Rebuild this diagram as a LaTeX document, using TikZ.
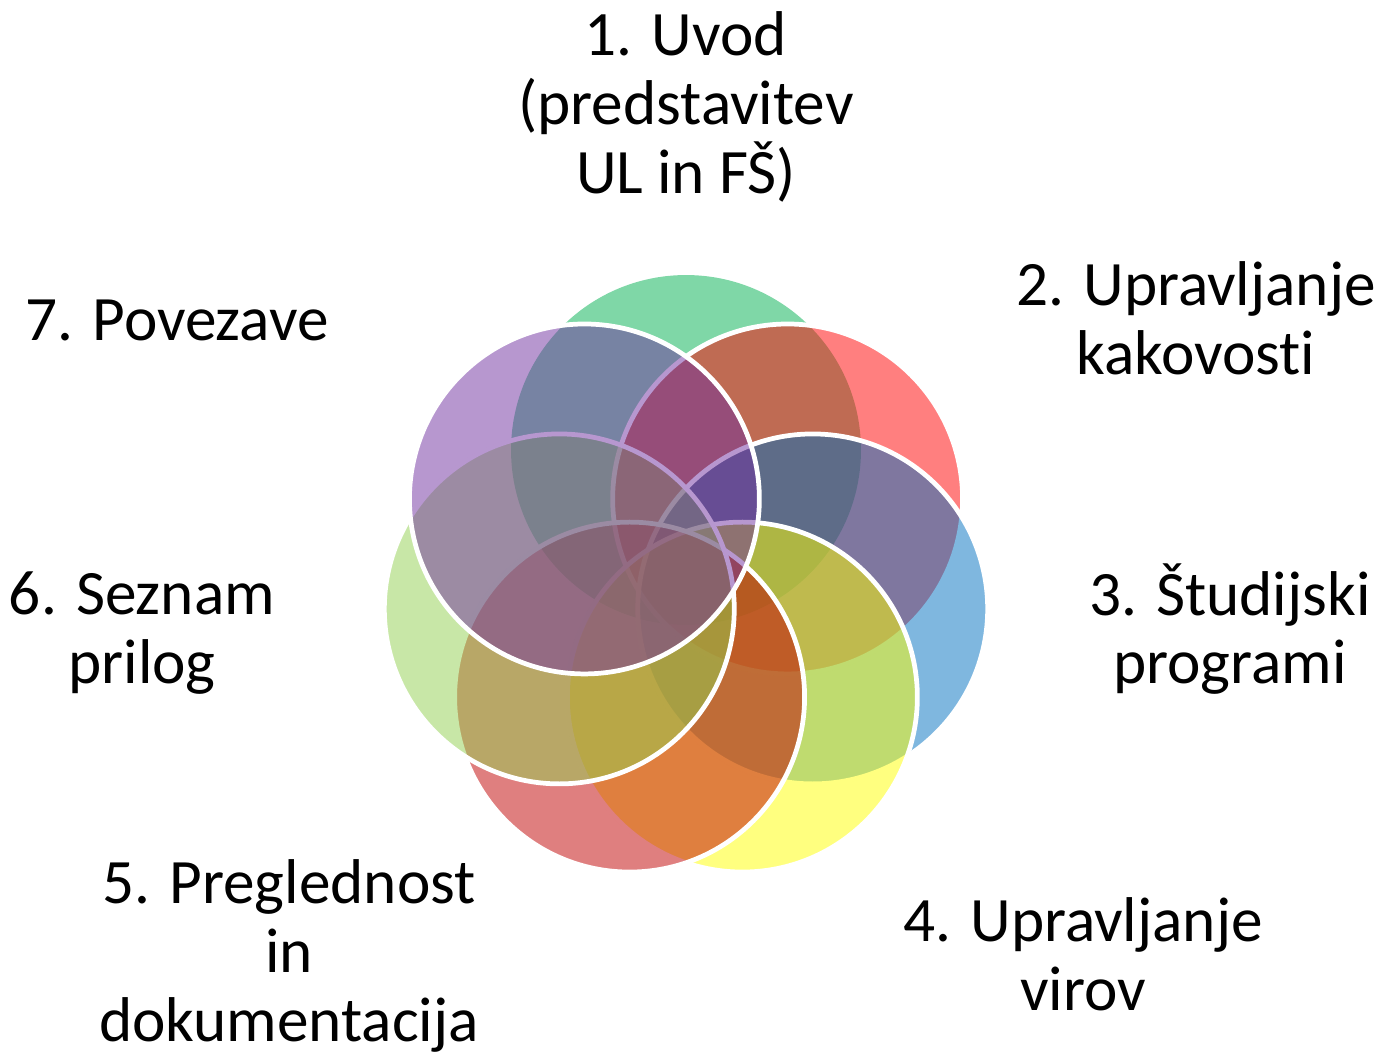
\documentclass[tikz,border=0pt]{standalone}
\usepackage{fontspec}
\setmainfont{Carlito}[Ligatures=CommonOff]
\usepackage{tikz}
\usetikzlibrary{calc}
\definecolor{krog1}{HTML}{00B050}
\definecolor{krog2}{HTML}{FF0000}
\definecolor{krog3}{HTML}{0070C0}
\definecolor{krog4}{HTML}{FFFF00}
\definecolor{krog5}{HTML}{C00000}
\definecolor{krog6}{HTML}{92D050}
\definecolor{krog7}{HTML}{7030A0}
\tikzset{
  krog/.style={circle, minimum size=7cm, inner sep=0pt, draw=white, line width=2.7pt, fill opacity=0.5},
  oznaka/.style={align=center, inner sep=0pt, font=\fontsize{36}{39.1}\selectfont}
}
\begin{document}
\begin{tikzpicture}[x=0.02cm, y=0.02cm]
	\useasboundingbox (0,0) rectangle (1381,1053);
	\coordinate (sredina) at (686,473);

	% krogi v obroc, prvi brez obrobe
	\node[krog, draw=none, fill=krog1] (k1) at ($(sredina)+(90:2.6cm)$) {};
	\foreach \i in {2,...,7} {
		\node[krog, fill=krog\i] (k\i) at ($(sredina)+({90-(\i-1)*360/7}:2.6cm)$) {};
	}

	\node[oznaka] (o1) at (686,946) {1. Uvod\\(predstavitev\\UL in FŠ)};
	\node[oznaka] (o2) at (1196,735) {2. Upravljanje\\kakovosti};
	\node[oznaka] (o3) at (1230,424) {3. Študijski\\programi};
	\node[oznaka] (o4) at (1083,99) {4. Upravljanje\\virov};
	\node[oznaka] (o5) at (289,97) {5. Preglednost\\in\\dokumentacija};
	\node[oznaka] (o6) at (142,420) {6. Seznam\\prilog};
	\node[oznaka] (o7) at (177,733) {7. Povezave};
\end{tikzpicture}
\end{document}
